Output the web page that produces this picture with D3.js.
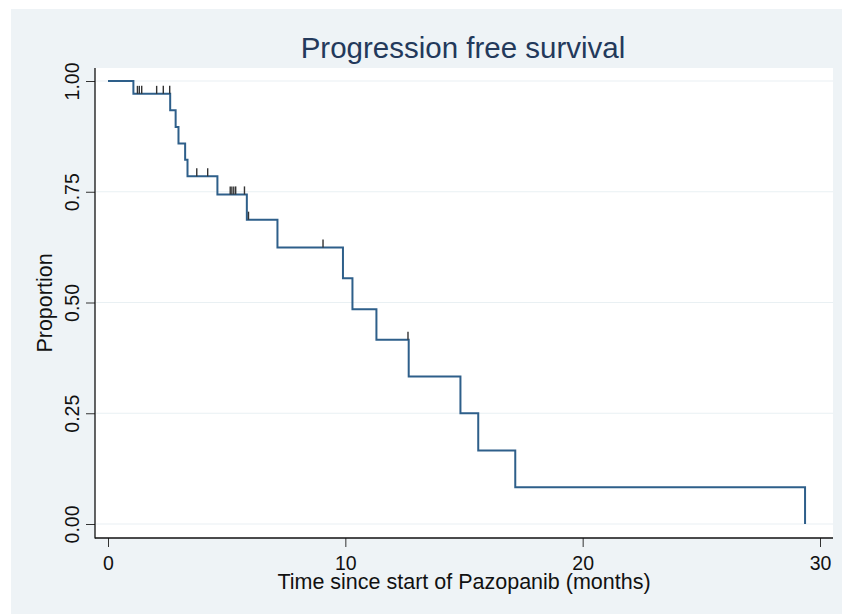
<!DOCTYPE html>
<html>
<head>
<meta charset="utf-8">
<script src="https://cdn.jsdelivr.net/npm/d3@7"></script>
<style>
  body { margin: 0; background: #fff; }
  text { font-family: "Liberation Sans", Arial, sans-serif; }
</style>
</head>
<body>
<svg id="chart" width="842" height="615"></svg>
<script>
// Kaplan-Meier steps
const stepTimes = [0, 1.07, 2.62, 2.85, 2.97, 3.25, 3.35, 4.61, 5.85, 7.14, 9.90, 10.30, 11.31, 12.67, 14.85, 15.60, 17.16, 29.37];
const survival = [1, 0.971, 0.934, 0.896, 0.859, 0.822, 0.785, 0.744, 0.687, 0.624, 0.555, 0.485, 0.416, 0.333, 0.250, 0.166, 0.083, 0];
// censored observations (tick marks)
const censorTimes = [1.24, 1.32, 1.42, 2.05, 2.33, 2.60, 3.74, 4.20, 5.15, 5.22, 5.30, 5.38, 5.75, 5.92, 9.06, 12.64];

const xTicks = [0, 10, 20, 30];
const yTicks = [0, 0.25, 0.5, 0.75, 1];
const titleText = "Progression free survival";
const xTitle = "Time since start of Pazopanib (months)";
const yTitle = "Proportion";

const svg = d3.select("#chart");
const plot = { left: 95, right: 833, top: 68, bottom: 538 };

const x = d3.scaleLinear().domain([0, 30]).range([108, 820]);
const y = d3.scaleLinear().domain([0, 1]).range([524, 81]);

// graph background + plot region
svg.append("rect").attr("x", 11).attr("y", 9).attr("width", 831).attr("height", 605).attr("fill", "#eef3f6");
svg.append("rect")
  .attr("x", plot.left).attr("y", plot.top)
  .attr("width", plot.right - plot.left).attr("height", plot.bottom - plot.top)
  .attr("fill", "#fff");

// gridlines
svg.append("g").selectAll("line").data(yTicks).join("line")
  .attr("x1", plot.left + 1).attr("x2", plot.right)
  .attr("y1", d => y(d)).attr("y2", d => y(d))
  .attr("stroke", "#e9f0f3").attr("stroke-width", 1.2);

// axes
const yAxis = svg.append("g").attr("transform", `translate(${plot.left},0)`)
  .call(d3.axisLeft(y).tickValues(yTicks).tickFormat(d3.format(".2f")).tickSize(9).tickPadding(0));
yAxis.select(".domain").remove();
yAxis.selectAll(".tick line").attr("stroke", "#333");
yAxis.selectAll(".tick text")
  .attr("x", null).attr("dy", null)
  .attr("transform", "translate(-16,0) rotate(-90)")
  .attr("text-anchor", "middle")
  .attr("font-size", 19.5).attr("fill", "#111");

const xAxis = svg.append("g").attr("transform", `translate(0,${plot.bottom})`)
  .call(d3.axisBottom(x).tickValues(xTicks).tickSize(9).tickPadding(0));
xAxis.select(".domain").remove();
xAxis.selectAll(".tick line").attr("stroke", "#333");
xAxis.selectAll(".tick text")
  .attr("y", 32).attr("dy", null)
  .attr("font-size", 19.5).attr("fill", "#111");

svg.append("line").attr("x1", plot.left).attr("x2", plot.left).attr("y1", plot.top).attr("y2", plot.bottom + 0.5)
  .attr("stroke", "#111").attr("stroke-width", 1.3);
svg.append("line").attr("x1", plot.left).attr("x2", plot.right).attr("y1", plot.bottom).attr("y2", plot.bottom)
  .attr("stroke", "#111").attr("stroke-width", 1.3);

// titles
svg.append("text").attr("x", 463).attr("y", 58).attr("text-anchor", "middle")
  .attr("font-size", 29.5).attr("fill", "#23395b").text(titleText);
svg.append("text").attr("x", 464).attr("y", 589).attr("text-anchor", "middle")
  .attr("font-size", 21.5).attr("fill", "#111").text(xTitle);
svg.append("text").attr("transform", "translate(52,303) rotate(-90)").attr("text-anchor", "middle")
  .attr("font-size", 21.5).attr("fill", "#111").text(yTitle);

// survival curve
const points = stepTimes.map((t, i) => [t, survival[i]]);
const line = d3.line().x(d => x(d[0])).y(d => y(d[1])).curve(d3.curveStepAfter);
svg.append("path").attr("d", line(points))
  .attr("fill", "none").attr("stroke", "#2e5f8a").attr("stroke-width", 2);

// censor ticks
const levelAt = t => survival[d3.bisectRight(stepTimes, t) - 1];
svg.append("g").selectAll("line").data(censorTimes).join("line")
  .attr("x1", d => x(d)).attr("x2", d => x(d))
  .attr("y1", d => y(levelAt(d))).attr("y2", d => y(levelAt(d)) - 8)
  .attr("stroke", "#333").attr("stroke-width", 1.4);
</script>
</body>
</html>
